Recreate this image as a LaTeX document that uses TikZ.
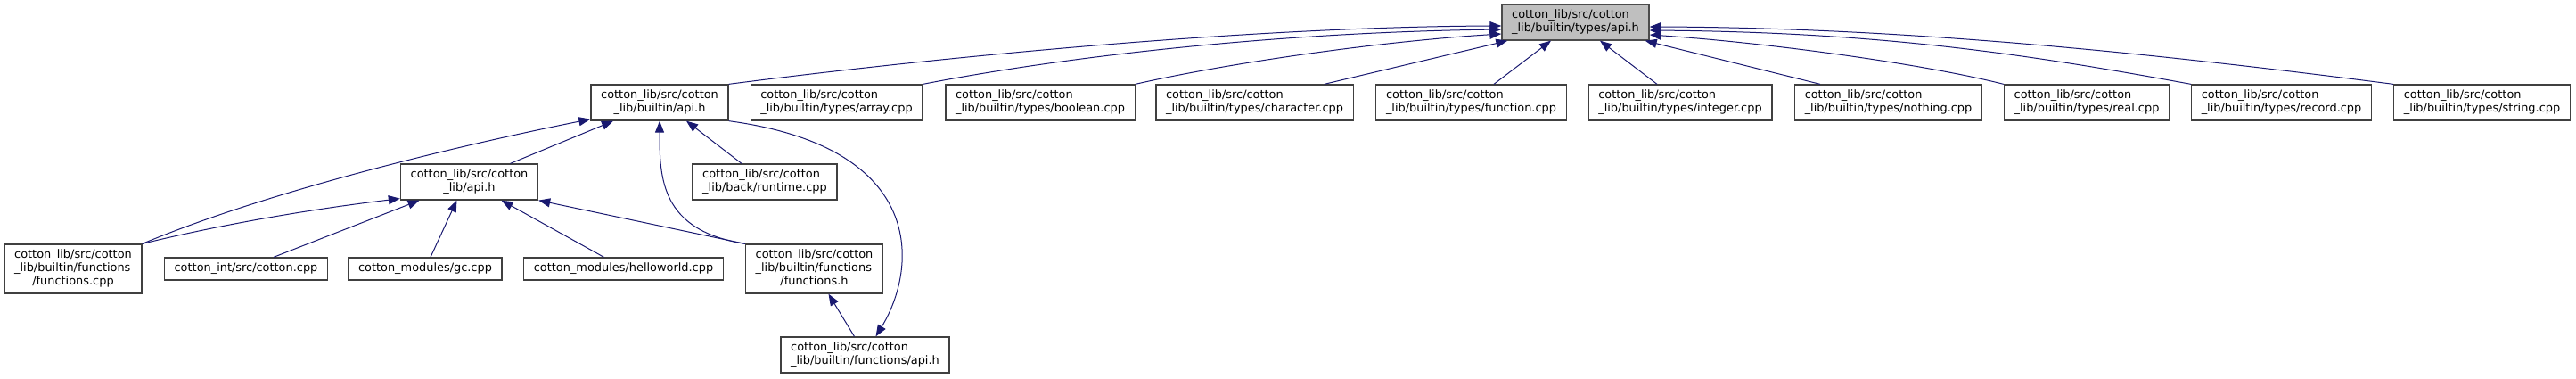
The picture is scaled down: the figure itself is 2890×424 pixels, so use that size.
\documentclass[tikz,border=0pt]{standalone}
\usepackage{fontspec}
\setmainfont{DejaVu Sans}
\usetikzlibrary{arrows.meta}
\definecolor{midblue}{HTML}{191970}
% file labels: upper lines flush left, last line centred
\newcommand{\lblone}[1]{\begin{tabular}{@{}l@{}}#1\end{tabular}}
\newcommand{\lbltwo}[2]{\begin{tabular}{@{}l@{}}#1\\\multicolumn{1}{@{}c@{}}{#2}\end{tabular}}
\newcommand{\lblthree}[3]{\begin{tabular}{@{}l@{}}#1\\#2\\\multicolumn{1}{@{}c@{}}{#3}\end{tabular}}
\begin{document}
\begin{tikzpicture}[
    x=0.5pt, y=-0.5pt,
    file/.style={draw=black!75, line width=0.65pt, fill=white, inner xsep=5.6pt, inner ysep=2.5pt, font=\fontsize{6.45pt}{7.5pt}\selectfont},
    current/.style={file, fill=black!25, draw=black!70},
    incl/.style={-{Triangle[length=6.5pt, width=5pt]}, draw=midblue, line width=0.5pt}
]
\useasboundingbox (0,0) rectangle (2890,424);

\node[current] (typesapi) at (1767.5,25) {\lbltwo{cotton\_lib/src/cotton}{\_lib/builtin/types/api.h}};

\node[file] (builtinapi) at (740,115) {\lbltwo{cotton\_lib/src/cotton}{\_lib/builtin/api.h}};
\foreach \nm/\x in {array/938.5, boolean/1167, character/1407.5, function/1650.5, integer/1885, nothing/2118.5, real/2341, record/2559.5, string/2784.5}
    \node[file] (\nm) at (\x,115) {\lbltwo{cotton\_lib/src/cotton}{\_lib/builtin/types/\nm.cpp}};

\node[file] (libapi) at (526.5,204) {\lbltwo{cotton\_lib/src/cotton}{\_lib/api.h}};
\node[file] (runtime) at (858,204) {\lbltwo{cotton\_lib/src/cotton}{\_lib/back/runtime.cpp}};

\node[file] (functionscpp) at (82,301.5) {\lblthree{cotton\_lib/src/cotton}{\_lib/builtin/functions}{/functions.cpp}};
\node[file] (cottonint) at (276,301.5) {\lblone{cotton\_int/src/cotton.cpp}};
\node[file] (gc) at (477,301.5) {\lblone{cotton\_modules/gc.cpp}};
\node[file] (helloworld) at (699.5,301.5) {\lblone{cotton\_modules/helloworld.cpp}};
\node[file] (functionsh) at (913.5,301.5) {\lblthree{cotton\_lib/src/cotton}{\_lib/builtin/functions}{/functions.h}};

\node[file] (functionsapi) at (970.5,398) {\lbltwo{cotton\_lib/src/cotton}{\_lib/builtin/functions/api.h}};

% includes of types/api.h
\draw[incl] (builtinapi.north east) .. controls +(233,-30) and +(-283,1) .. ([yshift=-2pt]typesapi.west);
\draw[incl] (array.north east) .. controls +(170,-33) and +(-240,3) .. ([yshift=-4pt]typesapi.west);
\draw[incl] (boolean.north east) .. controls +(110,-25) and +(-130,8) .. ([yshift=-6.5pt]typesapi.west);
\draw[incl] ([xshift=-16.5pt]character.north east) -- ([xshift=3.5pt]typesapi.south west);
\draw[incl] ([xshift=12.75pt]function.north) -- ([xshift=-13.75pt]typesapi.south);
\draw[incl] ([xshift=-13pt]integer.north) -- ([xshift=13.75pt]typesapi.south);
\draw[incl] ([xshift=14.5pt]nothing.north west) -- ([xshift=-2.5pt]typesapi.south east);
\draw[incl] (real.north west) .. controls +(-100,-25) and +(120,8) .. ([yshift=-7pt]typesapi.east);
\draw[incl] (record.north west) .. controls +(-180,-33) and +(260,2) .. ([yshift=-4.5pt]typesapi.east);
\draw[incl] (string.north west) .. controls +(-250,-32) and +(300,1) .. ([yshift=-2.5pt]typesapi.east);

% includes of builtin/api.h
\draw[incl] ([xshift=23pt]libapi.north) -- ([xshift=-26pt]builtinapi.south);
\draw[incl] ([xshift=-13pt]runtime.north) -- ([xshift=15pt]builtinapi.south);
\draw[incl] (functionsh.north west) .. controls +(-95,-15) and +(0,64) .. (builtinapi.south);
\draw[incl] (functionscpp.north east) .. controls +(141,-59) and +(-150,30) .. ([yshift=1pt]builtinapi.south west);
\draw[incl] (builtinapi.south east) .. controls +(223,30) and +(47,-77) .. ([xshift=6pt]functionsapi.north);

% includes of lib/api.h
\draw[incl] (functionscpp.north east) .. controls +(90,-22) and +(-100,12) .. ([yshift=1pt]libapi.south west);
\draw[incl] ([xshift=15.5pt]cottonint.north) -- ([xshift=-28pt]libapi.south);
\draw[incl] ([xshift=3pt]gc.north) -- ([xshift=-7pt]libapi.south);
\draw[incl] ([xshift=-11pt]helloworld.north) -- ([xshift=18pt]libapi.south);
\draw[incl] (functionsh.north west) -- (libapi.south east);

\draw[incl] ([xshift=-6pt]functionsapi.north) -- ([xshift=8pt]functionsh.south);
\end{tikzpicture}
\end{document}
